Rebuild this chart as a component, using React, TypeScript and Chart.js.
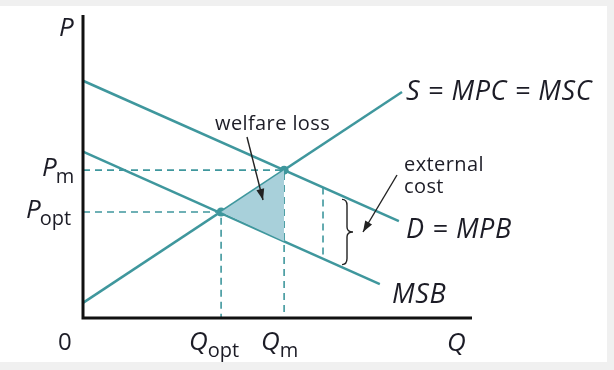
import React, { useEffect, useRef } from "react";
import { Chart, registerables } from "chart.js";

Chart.register(...registerables);

// Axis ranges (arbitrary units)
const qMax = 10;
const pMax = 10;

// Curves: [Q, P] end points
const supplyQ = [0, 8.2];
const supplyP = [0.5, 7.46];
const demandQ = [0, 8.12];
const demandP = [7.83, 3.2];
const msbQ = [0, 7.63];
const msbP = [5.49, 1.12];

// Key values
const qOpt = 3.55;
const qM = 5.17;
const pOpt = 3.5;
const pM = 4.88;
const msbAtQm = 2.53;

// External cost marker
const extQ = 6.17;
const extTop = 4.31;
const extBottom = 1.96;

const TEAL = "#3f979d";
const FILL = "#a8d0da";
const TEXT = "#1c1c26";
const FONT = "'Open Sans', 'Noto Sans', sans-serif";

function pts(xs: number[], ys: number[]) {
  return xs.map((x, i) => ({ x, y: ys[i] }));
}

const decorPlugin = {
  id: "decor",
  beforeDraw(chart: any) {
    const ctx = chart.ctx;
    ctx.save();
    ctx.fillStyle = "#f0f0f0";
    ctx.fillRect(0, 0, chart.width, chart.height);
    ctx.fillStyle = "#ffffff";
    ctx.fillRect(0, 6, 607, 356);
    ctx.restore();
  },
  afterDatasetsDraw(chart: any) {
    const ctx = chart.ctx;
    const xs = chart.scales.x;
    const ys = chart.scales.y;
    const X = (v: number) => xs.getPixelForValue(v);
    const Y = (v: number) => ys.getPixelForValue(v);
    const ca = chart.chartArea;
    ctx.save();

    // axes
    ctx.strokeStyle = "#111";
    ctx.lineWidth = 3;
    ctx.beginPath();
    ctx.moveTo(ca.left, ca.top);
    ctx.lineTo(ca.left, ca.bottom);
    ctx.lineTo(ca.right, ca.bottom);
    ctx.stroke();

    // arrows
    const arrow = (x1: number, y1: number, x2: number, y2: number) => {
      ctx.strokeStyle = "#222";
      ctx.fillStyle = "#222";
      ctx.lineWidth = 1.4;
      ctx.beginPath();
      ctx.moveTo(x1, y1);
      ctx.lineTo(x2, y2);
      ctx.stroke();
      const a = Math.atan2(y2 - y1, x2 - x1);
      const L = 11;
      const W = 4;
      ctx.beginPath();
      ctx.moveTo(x2, y2);
      ctx.lineTo(x2 - L * Math.cos(a) + W * Math.sin(a), y2 - L * Math.sin(a) - W * Math.cos(a));
      ctx.lineTo(x2 - L * Math.cos(a) - W * Math.sin(a), y2 - L * Math.sin(a) + W * Math.cos(a));
      ctx.closePath();
      ctx.fill();
    };
    arrow(247, 137, 263, 200);
    arrow(397, 175, 363, 232);

    // brace
    ctx.strokeStyle = "#222";
    ctx.lineWidth = 1.4;
    const bx = 347;
    const top = Y(extTop) + 12;
    const bot = Y(extBottom) + 6;
    const mid = (top + bot) / 2;
    ctx.beginPath();
    ctx.moveTo(bx - 5, top);
    ctx.quadraticCurveTo(bx, top, bx, top + 6);
    ctx.lineTo(bx, mid - 5);
    ctx.quadraticCurveTo(bx, mid, bx + 6, mid);
    ctx.quadraticCurveTo(bx, mid, bx, mid + 5);
    ctx.lineTo(bx, bot - 6);
    ctx.quadraticCurveTo(bx, bot, bx - 5, bot);
    ctx.stroke();

    // texts
    ctx.fillStyle = TEXT;
    ctx.textBaseline = "alphabetic";
    ctx.textAlign = "left";
    const it = (s: number) => `italic ${s}px ${FONT}`;
    const rg = (s: number) => `${s}px ${FONT}`;
    const put = (t: string, x: number, y: number, f: string, sp = 0) => {
      ctx.font = f;
      (ctx as any).letterSpacing = `${sp}px`;
      ctx.fillText(t, x, y);
      const w = ctx.measureText(t).width;
      (ctx as any).letterSpacing = "0px";
      return w;
    };

    put("P", 59, 36, it(26));
    // Pm
    let w = put("P", 42, Y(pM) + 6, it(26));
    put("m", 42 + w - 1, Y(pM) + 13, rg(20));
    // Popt
    w = put("P", 26, Y(pOpt) + 6, it(26));
    put("opt", 26 + w - 1, Y(pOpt) + 13, rg(20));
    // 0
    put("0", 58, 350, rg(24));
    // Qopt
    w = put("Q", X(qOpt) - 32, 350, it(26));
    put("opt", X(qOpt) - 32 + w, 357, rg(20));
    // Qm
    w = put("Q", X(qM) - 23, 350, it(26));
    put("m", X(qM) - 23 + w, 357, rg(20));
    // Q
    put("Q", 447, 351, it(26));

    put("S = MPC = MSC", 406, 100, it(27), 0.6);
    put("D = MPB", 406, 238, it(27), 0.6);
    put("MSB", 392, 303, it(27), 0.6);
    put("welfare loss", 215, 130, rg(20), 0.4);
    put("external", 404, 171, rg(20), 0.4);
    put("cost", 404, 193, rg(20), 0.4);

    ctx.restore();
  },
};

export default function App() {
  const ref = useRef<HTMLCanvasElement | null>(null);
  useEffect(() => {
    if (!ref.current) return;
    const line = (data: any[], extra: any = {}) => ({
      data,
      showLine: true,
      borderColor: TEAL,
      borderWidth: 2.5,
      pointRadius: 0,
      fill: false,
      clip: false as any,
      ...extra,
    });
    const dashed = { borderWidth: 1.6, borderDash: [7, 5] };
    const chart = new Chart(ref.current, {
      type: "scatter",
      data: {
        datasets: [
          // welfare loss triangle (upper edge then lower edge filled between)
          line(pts([qOpt, qM], [pOpt, pM]), { borderWidth: 0 }),
          line(pts([qOpt, qM], [pOpt, msbAtQm]), {
            borderWidth: 0,
            fill: "-1",
            backgroundColor: FILL,
          }),
          line(pts([0, qOpt, qOpt], [pOpt, pOpt, 0]), dashed),
          line(pts([0, qM, qM], [pM, pM, 0]), dashed),
          line(pts([extQ, extQ], [extTop, extBottom]), dashed),
          line(pts(supplyQ, supplyP)),
          line(pts(demandQ, demandP)),
          line(pts(msbQ, msbP)),
          {
            data: pts([qOpt, qM], [pOpt, pM]),
            showLine: false,
            pointRadius: 4.5,
            pointBackgroundColor: TEAL,
            pointBorderWidth: 0,
            clip: false as any,
          },
        ],
      },
      options: {
        animation: false,
        responsive: false,
        devicePixelRatio: 1,
        layout: { padding: { left: 83, right: 142, top: 15, bottom: 52 } },
        plugins: { legend: { display: false }, tooltip: { enabled: false } },
        events: [],
        scales: {
          x: { type: "linear", min: 0, max: qMax, display: false },
          y: { type: "linear", min: 0, max: pMax, display: false },
        },
      },
      plugins: [decorPlugin],
    });
    return () => chart.destroy();
  }, []);
  return (
    <div style={{ position: "fixed", left: 0, top: 0, width: 614, height: 370 }}>
      <canvas ref={ref} width={614} height={370} style={{ width: 614, height: 370 }} />
    </div>
  );
}
